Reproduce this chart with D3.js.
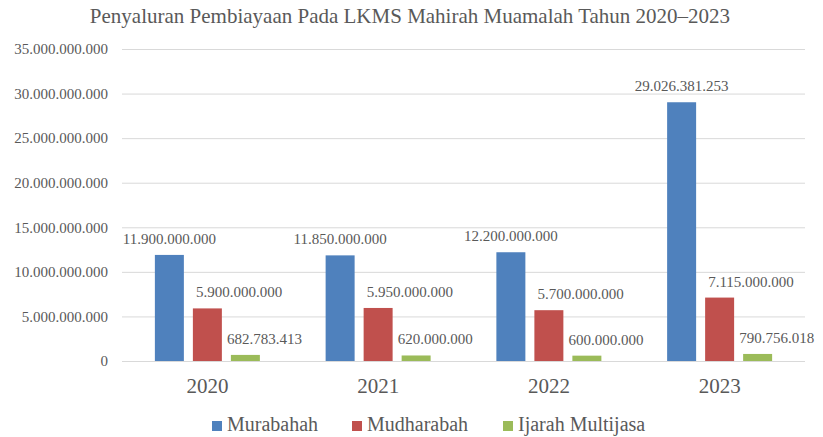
<!DOCTYPE html>
<html>
<head>
<meta charset="utf-8">
<script src="https://cdn.jsdelivr.net/npm/d3@7"></script>
<style>
  body { margin: 0; background: #fff; }
  text { font-family: "Liberation Serif", "Times New Roman", serif; fill: #595959; }
</style>
</head>
<body>
<div id="chart"></div>
<script>
var years       = ["2020", "2021", "2022", "2023"];
var murabahah   = [11900000000, 11850000000, 12200000000, 29026381253];
var mudharabah  = [5900000000, 5950000000, 5700000000, 7115000000];
var ijarah      = [682783413, 620000000, 600000000, 790756018];
var seriesNames = ["Murabahah", "Mudharabah", "Ijarah Multijasa"];
var yTicks      = [0, 5000000000, 10000000000, 15000000000, 20000000000, 25000000000, 30000000000, 35000000000];

var colors = ["#4f81bd", "#c0504d", "#9bbb59"];
var series = [murabahah, mudharabah, ijarah];

var chart_width  = 823;
var chart_height = 437;
var plot_left = 122, plot_right = 805, plot_top = 49, plot_bottom = 361;
var group_w = 105;

var fmt = function(v){
    return String(Math.round(v)).replace(/\B(?=(\d{3})+(?!\d))/g, ".");
};

var svg = d3.select("#chart")
    .append("svg")
    .attr("width", chart_width)
    .attr("height", chart_height);

// scales
var x_scale = d3.scaleBand()
    .domain(years)
    .range([plot_left, plot_right]);

var x_inner = d3.scaleBand()
    .domain(d3.range(series.length))
    .range([0, group_w])
    .paddingInner(0.237);

var y_scale = d3.scaleLinear()
    .domain([0, 35000000000])
    .range([plot_bottom, plot_top]);

// title
svg.append("text")
    .attr("x", 410)
    .attr("y", 23)
    .attr("text-anchor", "middle")
    .style("font-size", "21px")
    .text("Penyaluran Pembiayaan Pada LKMS Mahirah Muamalah Tahun 2020\u20132023");

// grid + y axis
var y_axis = d3.axisLeft(y_scale)
    .tickValues(yTicks)
    .tickSize(-(plot_right - plot_left))
    .tickPadding(14)
    .tickFormat(fmt);

var gy = svg.append("g")
    .attr("transform", "translate(" + plot_left + ",0)")
    .call(y_axis);
gy.select(".domain").remove();
gy.selectAll(".tick line").attr("stroke", "#d9d9d9");
gy.selectAll(".tick text")
    .style("font-size", "15px")
    .attr("fill", "#595959")
    .attr("font-family", "Liberation Serif");

// x axis labels
var x_axis = d3.axisBottom(x_scale).tickSize(0).tickPadding(17);
var gx = svg.append("g")
    .attr("transform", "translate(0," + plot_bottom + ")")
    .call(x_axis);
gx.select(".domain").remove();
gx.selectAll(".tick text")
    .style("font-size", "21px")
    .attr("fill", "#595959")
    .attr("font-family", "Liberation Serif");

// bars
var labelDx = [null, 3, -4];
var barX = function(i, si){
    return x_scale(years[i]) + (x_scale.bandwidth() - group_w) / 2 + x_inner(si);
};
series.forEach(function(vals, si){
    var g = svg.append("g");
    g.selectAll("rect")
        .data(vals)
        .enter()
        .append("rect")
        .attr("x", function(d, i){ return barX(i, si); })
        .attr("y", function(d){ return y_scale(d); })
        .attr("width", x_inner.bandwidth())
        .attr("height", function(d){ return plot_bottom - y_scale(d); })
        .attr("fill", colors[si]);

    g.selectAll("text")
        .data(vals)
        .enter()
        .append("text")
        .attr("x", function(d, i){
            if (si === 0) return barX(i, si) + x_inner.bandwidth() / 2;
            return barX(i, si) + labelDx[si];
        })
        .attr("y", function(d){ return y_scale(d) - 11; })
        .attr("text-anchor", si === 0 ? "middle" : "start")
        .style("font-size", "15px")
        .text(function(d){ return fmt(d); });
});

// legend
var legendX = [212, 352, 503];
var legend = svg.append("g");
seriesNames.forEach(function(name, i){
    legend.append("rect")
        .attr("x", legendX[i])
        .attr("y", 421)
        .attr("width", 10)
        .attr("height", 10)
        .attr("fill", colors[i]);
    legend.append("text")
        .attr("x", legendX[i] + 15)
        .attr("y", 431)
        .style("font-size", "20px")
        .text(name);
});
</script>
</body>
</html>
